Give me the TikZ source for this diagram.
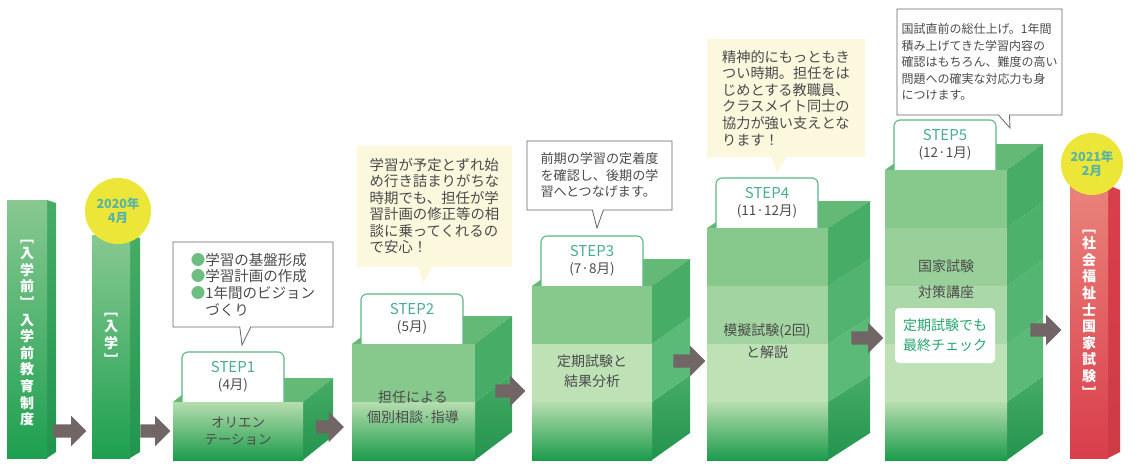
\documentclass[tikz,border=0pt]{standalone}
\usepackage{fontspec}
\setmainfont{Noto Sans CJK JP}
\usepackage{tikz}
\usetikzlibrary{shapes.arrows,shapes.callouts}
\definecolor{topgreen}{RGB}{100,185,118}
\definecolor{tabline}{RGB}{95,182,130}
\definecolor{stepgreen}{RGB}{75,172,145}
\definecolor{flight}{RGB}{190,225,182}
\definecolor{fmed}{RGB}{135,200,140}
\definecolor{ftop}{RGB}{182,221,174}
\definecolor{fmid}{RGB}{125,196,130}
\definecolor{fdark}{RGB}{28,156,76}
\definecolor{sidemed}{RGB}{70,172,102}
\definecolor{sidelight}{RGB}{92,186,120}
\definecolor{sidedark}{RGB}{34,148,78}
\definecolor{coltop}{RGB}{135,200,145}
\definecolor{colbot}{RGB}{30,160,80}
\definecolor{redtop}{RGB}{233,130,122}
\definecolor{redbot}{RGB}{218,62,75}
\definecolor{redside}{RGB}{205,60,70}
\definecolor{sunyellow}{RGB}{235,230,55}
\definecolor{datecol}{RGB}{90,180,165}
\definecolor{arrowgray}{RGB}{113,102,101}
\definecolor{cream}{RGB}{251,248,222}
\definecolor{calloutgray}{RGB}{100,100,100}
\definecolor{textgray}{RGB}{75,75,75}
\definecolor{bulletgreen}{RGB}{110,190,130}
\definecolor{checkgreen}{RGB}{40,165,110}
\newcommand{\bul}{\textcolor{bulletgreen}{●}}
% stacked box: name, x0, x1, layers, dx, dy, step, month
\newcommand{\stagebox}[8]{%
  \pgfmathsetmacro{\ytop}{460-58*#4}
  \fill[topgreen] (#2,\ytop) -- (#3,\ytop) -- (#3+#5,\ytop+#6) -- (#2+#5,\ytop+#6) -- cycle;
  \filldraw[fill=white,draw=tabline,line width=1.1pt,rounded corners=6pt]
    (#2+9,\ytop+8) -- (#2+9,\ytop-50) -- (#2+111,\ytop-50) -- (#2+111,\ytop+8);
  \node[steplabel] (lab#1) at (#2+60,\ytop-25)
    {\textcolor{stepgreen}{\fontsize{15}{16}\selectfont STEP#7}\\#8};
  \foreach \k in {1,...,#4}{
    \pgfmathsetmacro{\ya}{460-58*\k}
    \pgfmathsetmacro{\yb}{460-58*(\k-1)}
    \ifnum\k=1
      \shade[top color=sidemed,bottom color=sidedark]
        (#3,\ya) -- (#3+#5,\ya+#6) -- (#3+#5,\yb+#6) -- (#3,\yb) -- cycle;
      \shade[top color=ftop,middle color=fmid,bottom color=fdark] (#2,\ya) rectangle (#3,\yb);
    \else
      \ifnum#4>2 \pgfmathtruncatemacro{\pct}{100*(#4-\k)/(#4-2)}\else\def\pct{0}\fi
      \fill[sidelight!\pct!sidemed]
        (#3,\ya) -- (#3+#5,\ya+#6) -- (#3+#5,\yb+#6) -- (#3,\yb) -- cycle;
      \fill[flight!\pct!fmed] (#2,\ya) rectangle (#3,\yb);
    \fi
  }
}

\begin{document}
\begin{tikzpicture}[x=1pt,y=-1pt,
  steplabel/.style={align=center,text=textgray,font=\fontsize{13.5}{17}\selectfont},
  bodytext/.style={align=center,text=textgray,font=\fontsize{14}{20}\selectfont},
  vtext/.style={align=center,text=white,font=\bfseries\fontsize{14}{16.6}\selectfont},
  datecircle/.style={circle,fill=sunyellow,text=datecol,align=center,
    font=\bfseries\fontsize{12.5}{14}\selectfont},
  blockarrow/.style={single arrow,fill=arrowgray,inner xsep=0pt,inner ysep=6.5pt,
    single arrow head extend=8.5pt,single arrow head indent=0pt,minimum height=#1},
  callwhite/.style={rectangle callout,draw=calloutgray,line width=0.8pt,fill=white,
    align=left,text=textgray,callout pointer width=11pt},
  callcream/.style={rectangle callout,fill=cream,align=left,text=textgray,
    callout pointer width=15pt}]
  \useasboundingbox (0,0) rectangle (1139,466);
  \fill[white] (0,0) rectangle (1139,466);
  % tall columns
  \shade[top color=sidemed,bottom color=sidedark] (47,200) -- (56,203) -- (56,452) -- (47,458) -- cycle;
  \shade[top color=coltop,bottom color=colbot] (7,200) rectangle (47,458);
  \node[vtext] (pre) at (27,333) {﹇\\入\\学\\前\\﹈\\入\\学\\前\\教\\育\\制\\度};
  \shade[top color=sidemed,bottom color=sidedark] (130,235) -- (140,238) -- (140,452) -- (130,458) -- cycle;
  \shade[top color=coltop,bottom color=colbot] (92,235) rectangle (130,458);
  \node[vtext] (entry) at (111,339) {﹇\\入\\学\\﹈};
  \node[datecircle,minimum size=66pt] (d2020) at (118,211) {2020年\\4月};
  \shade[top color=redbot,bottom color=redside] (1108,185) -- (1120,190) -- (1120,452) -- (1108,458) -- cycle;
  \shade[top color=redtop,bottom color=redbot] (1070,185) rectangle (1108,458);
  \node[vtext] (exam) at (1089,314) {﹇\\社\\会\\福\\祉\\士\\国\\家\\試\\験\\﹈};
  \node[datecircle,minimum size=62pt] (d2021) at (1092,164) {2021年\\2月};
  % step boxes
  \stagebox{s1}{173}{303}{1}{30}{-24}{1}{(4月)}
  \stagebox{s2}{352}{475}{2}{37}{-28}{2}{(5月)}
  \stagebox{s3}{532}{652}{3}{38}{-27}{3}{(7·8月)}
  \stagebox{s4}{707}{828}{4}{42}{-27}{4}{(11·12月)}
  \stagebox{s5}{885}{1007}{5}{36}{-26}{5}{(12·1月)}
  \node[bodytext,font=\fontsize{13.5}{16.5}\selectfont] (b1) at (238,431) {オリエン\\テーション};
  \node[bodytext] (b2) at (413,407) {担任による\\個別相談·指導};
  \node[bodytext] (b3) at (592,371) {定期試験と\\結果分析};
  \node[bodytext,font=\fontsize{14}{22}\selectfont] (b4) at (767,341) {模擬試験(2回)\\と解説};
  \node[bodytext,font=\fontsize{14}{26}\selectfont] (b5) at (946,279) {国家試験\\対策講座};
  \node[fill=white,rounded corners=4pt,minimum width=100pt,minimum height=55pt,align=center,
    text=checkgreen,font=\fontsize{14}{20}\selectfont] (chk) at (945,335.5) {定期試験でも\\最終チェック};
  % arrows
  \node[blockarrow=33pt] (a1) at (66.5,431) {};
  \node[blockarrow=30pt] (a2) at (152,431) {};
  \node[blockarrow=28pt] (a3) at (326.5,427) {};
  \node[blockarrow=30pt] (a4) at (507,391) {};
  \node[blockarrow=32pt] (a5) at (686,361) {};
  \node[blockarrow=32pt] (a6) at (864,338) {};
  \node[blockarrow=31pt] (a7) at (1042.5,330) {};
  % callouts
  \node[callwhite,callout absolute pointer={(242,345)},minimum width=160pt,minimum height=85pt,
    font=\fontsize{14.5}{16.6}\selectfont] (c1) at (253,284.5)
    {\bul 学習の基盤形成\\\bul 学習計画の作成\\\bul 1年間のビジョン\\\phantom{●}づくり};
  \node[callcream,callout absolute pointer={(423,283)},minimum width=155pt,minimum height=121pt,
    font=\fontsize{14.4}{16.4}\selectfont] (c2) at (434.5,206)
    {学習が予定とずれ始\\め行き詰まりがちな\\時期でも、担任が学\\習計画の修正等の相\\談に乗ってくれるの\\で安心！};
  \node[callwhite,callout absolute pointer={(597,228)},minimum width=145pt,minimum height=69pt,
    font=\fontsize{13.1}{16.5}\selectfont] (c3) at (599.5,175.5)
    {前期の学習の定着度\\を確認し、後期の学\\習へとつなげます。};
  \node[callcream,callout absolute pointer={(777,172)},minimum width=158pt,minimum height=118pt,
    font=\fontsize{14.2}{16.6}\selectfont] (c4) at (786,98)
    {精神的にもっともき\\つい時期。担任をは\\じめとする教職員、\\クラスメイト同士の\\協力が強い支えとな\\ります！};
  \node[callwhite,callout absolute pointer={(1010,128)},minimum width=165pt,minimum height=106pt,
    font=\fontsize{12}{16.5}\selectfont] (c5) at (979.5,62)
    {国試直前の総仕上げ。1年間\\積み上げてきた学習内容の\\確認はもちろん、難度の高い\\問題への確実な対応力も身\\につけます。};
\end{tikzpicture}
\end{document}
